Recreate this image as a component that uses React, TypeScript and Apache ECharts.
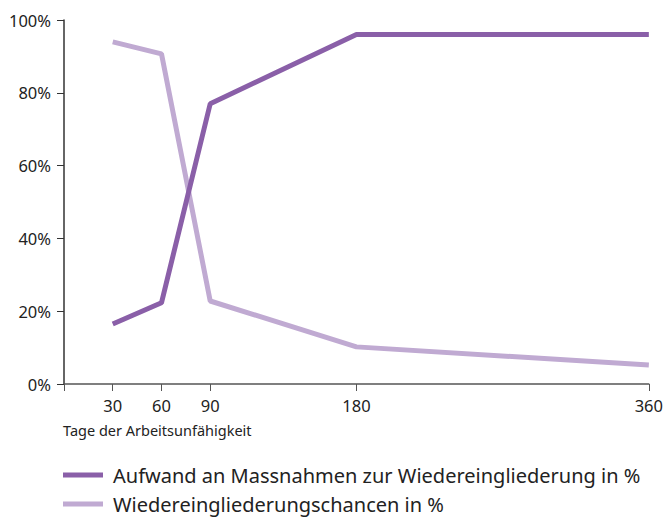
import React, { useEffect, useRef } from "react";
import * as echarts from "echarts";

const days = [30, 60, 90, 180, 360];
const aufwand = [16.5, 22.3, 77, 96, 96];
const chancen = [94, 90.7, 22.8, 10.2, 5.2];
const xTicks = [0, 30, 60, 90, 180, 360];
const xLabels = [30, 60, 90, 180, 360];
const seriesNames = [
  "Aufwand an Massnahmen zur Wiedereingliederung in %",
  "Wiedereingliederungschancen in %",
];
const xAxisTitle = "Tage der Arbeitsunfähigkeit";

export default function App() {
  const ref = useRef<HTMLDivElement>(null);
  useEffect(() => {
    if (!ref.current) return;
    const chart = echarts.init(ref.current, undefined, { renderer: "svg" });
    const font = "'Noto Sans', sans-serif";
    const legendBase = {
      orient: "horizontal",
      left: 63,
      icon: "rect",
      itemWidth: 40,
      itemHeight: 5,
      itemGap: 10,
      padding: 0,
      textStyle: { fontSize: 20, color: "#222", fontFamily: font, padding: [0, 0, 0, 5] },
    };
    chart.setOption({
      animation: false,
      textStyle: { fontFamily: font },
      grid: { left: 64, right: 16, top: 20, bottom: 134, containLabel: false },
      xAxis: {
        type: "value",
        min: 0,
        max: 360,
        axisLine: { show: true, lineStyle: { color: "#555", width: 1.5 } },
        axisTick: { show: true, customValues: xTicks, length: 7, lineStyle: { color: "#555" } },
        axisLabel: { customValues: xLabels, color: "#222", fontSize: 16.5, margin: 13, fontFamily: font },
        splitLine: { show: false },
      },
      yAxis: {
        type: "value",
        min: 0,
        max: 100,
        interval: 20,
        axisLine: { show: true, lineStyle: { color: "#333", width: 1.5 } },
        axisTick: { show: true, length: 7, lineStyle: { color: "#333" } },
        axisLabel: { formatter: "{value}%", color: "#222", fontSize: 16.5, margin: 13, fontFamily: font },
        splitLine: { show: false },
      },
      legend: [
        { ...legendBase, top: 465, data: [seriesNames[0]] },
        { ...legendBase, top: 494, data: [seriesNames[1]] },
      ],
      graphic: [
        {
          type: "text",
          left: 63,
          top: 422,
          style: { text: xAxisTitle, fontSize: 14.5, fill: "#222", fontFamily: font },
        },
      ],
      series: [
        {
          name: seriesNames[1],
          type: "line",
          data: days.map((d, i) => [d, chancen[i]]),
          showSymbol: false,
          symbol: "none",
          lineStyle: { color: "#c0aad2", width: 5 },
          itemStyle: { color: "#c0aad2" },
        },
        {
          name: seriesNames[0],
          type: "line",
          data: days.map((d, i) => [d, aufwand[i]]),
          showSymbol: false,
          symbol: "none",
          lineStyle: { color: "#8a5fa8", width: 5 },
          itemStyle: { color: "#8a5fa8" },
        },
      ],
    });
    return () => chart.dispose();
  }, []);
  return (
    <div
      ref={ref}
      style={{ position: "absolute", left: 0, top: 0, width: 666, height: 518 }}
    />
  );
}
